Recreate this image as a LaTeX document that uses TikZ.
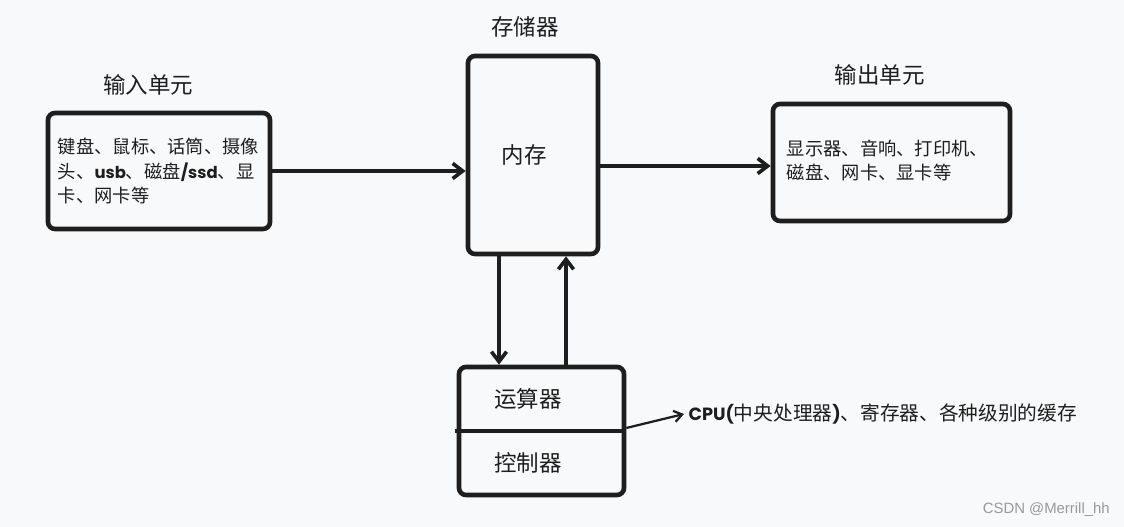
\documentclass[tikz,border=0pt]{standalone}
\usepackage{fontspec}
\usepackage{xcolor}
\usetikzlibrary{arrows.meta, positioning}
\newfontfamily\cjk{Noto Sans CJK SC}
\newfontfamily\latb{Poppins}[Scale=0.9]
\newfontfamily\wmfont{Liberation Sans}
\definecolor{ink}{HTML}{1E1E1E}
\definecolor{paper}{HTML}{F8F9FA}
\newcommand{\bl}[1]{{\latb\bfseries #1}}
\tikzstyle{unit} = [rectangle, rounded corners=5pt, draw=ink, line width=3.3pt, fill=paper]
\tikzstyle{title} = [font=\cjk\fontsize{16}{19}\selectfont, text=ink]
\tikzstyle{body} = [font=\cjk\fontsize{13}{17.4}\selectfont, text=ink, align=left, inner sep=0pt]
\tikzstyle{link} = [line width=2.6pt, draw=ink, -{Straight Barb[length=2.5mm,width=3.8mm]}]
\tikzstyle{hint} = [line width=1.6pt, draw=ink, -{Straight Barb[length=2mm,width=2.8mm]}]

\begin{document}
\begin{tikzpicture}
      \fill [paper] (0,0) rectangle (28.1,13.175);
      \useasboundingbox (0,0) rectangle (28.1,13.175);

      \node (in) [unit, minimum width=5.55cm, minimum height=2.9cm] at (3.975,8.9) {};
      \node (mem) [unit, minimum width=3.25cm, minimum height=4.95cm] at (13.325,9.3) {};
      \node (out) [unit, minimum width=5.925cm, minimum height=2.925cm] at (22.2875,9.1125) {};
      \node (cpu) [unit, minimum width=4.125cm, minimum height=3.2cm] at (13.5375,2.4) {};
      \draw [ink, line width=3.3pt] ([xshift=-0.05cm]cpu.west) -- (cpu.east);

      \node (intitle) [title, above=0.25cm of in, xshift=-0.275cm] {输入单元};
      \node (memtitle) [title, above=0.28cm of mem, xshift=-0.2cm] {存储器};
      \node (outtitle) [title, above=0.28cm of out, xshift=-0.29cm] {输出单元};

      \node (inlist) [body, anchor=west] at ([xshift=0.3cm]in.west) {键盘、鼠标、话筒、摄像\\头、\bl{usb}、磁盘\bl{/ssd}、显\\卡、网卡等};
      \node (outlist) [body, anchor=west] at ([xshift=0.4cm,yshift=0.05cm]out.west) {显示器、音响、打印机、\\磁盘、网卡、显卡等};
      \node (ram) [title] at ([xshift=-0.225cm]mem.center) {内存};
      \node (alu) [title] at ([xshift=-0.34cm,yshift=0.8cm]cpu.center) {运算器};
      \node (cu) [title] at ([xshift=-0.34cm,yshift=-0.8cm]cpu.center) {控制器};
      \node (cpunote) [body, anchor=west, inner sep=3pt, font=\cjk\fontsize{14}{17}\selectfont] at (17.1,2.825) {\bl{CPU(}中央处理器\bl{)}、寄存器、各种级别的缓存};
      \node (mark) [anchor=east, inner sep=0pt, text=gray!80, font=\wmfont\fontsize{10.6}{13}\selectfont] at (27.75,0.425) {CSDN @Merrill\_hh};

      \draw [link] (in.east) -- (in.east -| mem.west);
      \draw [link] ([yshift=-0.275cm]mem.east) -- ([yshift=-0.275cm]mem.east -| out.west);
      \draw [link] ([xshift=-0.85cm]mem.south) -- ([xshift=-0.85cm]mem.south |- cpu.north);
      \draw [link] ([xshift=0.825cm]mem.south |- cpu.north) -- ([xshift=0.825cm]mem.south);
      \draw [hint] ([yshift=0.075cm]cpu.east) -- (cpunote.west);
    \end{tikzpicture}
\end{document}
